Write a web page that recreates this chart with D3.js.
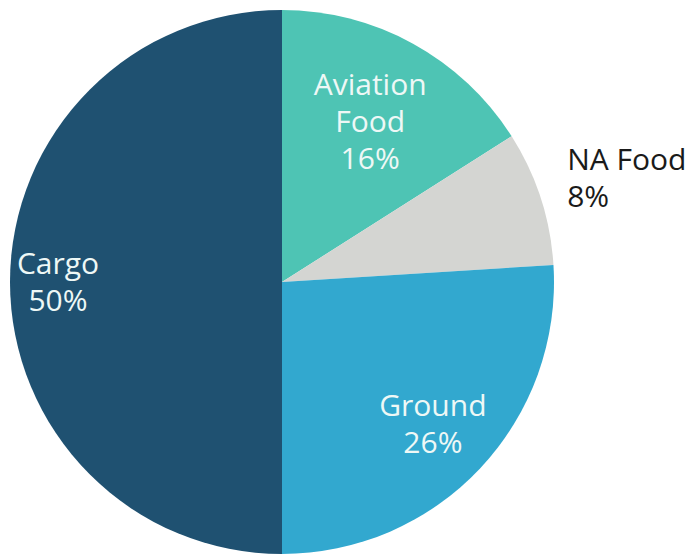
<!DOCTYPE html>
<html>
<head>
<meta charset="utf-8">
<script src="https://cdn.jsdelivr.net/npm/d3@7"></script>
<style>
  html, body { margin: 0; padding: 0; background: #ffffff; }
  svg { display: block; }
</style>
</head>
<body>
<div id="chart"></div>
<script>
// slices, clockwise from 12 o'clock
const categories = ["Aviation Food", "NA Food", "Ground", "Cargo"];
const shares = [16, 8, 26, 50];
const labelLines = [["Aviation", "Food", "16%"], ["NA Food", "8%"], ["Ground", "26%"], ["Cargo", "50%"]];
const colors = ["#4ec4b4", "#d4d5d2", "#32a8cf", "#1f5171"];

const width = 698, height = 556;
const cx = 282, cy = 282, radius = 272;
const fontSize = 30, pitch = 37, capH = 21;

// where each label sits: radius from centre, small tweaks
const labelCfg = {
  "Aviation Food": { r: 183, anchor: "middle", fill: "#eef8f6", dx: 0, dy: 0 },
  "NA Food": { r: 303, anchor: "start", fill: "#1a1a1a", dx: -3, dy: -10 },
  "Ground": { r: 207, anchor: "middle", fill: "#eef8f6", dx: 0, dy: 0 },
  "Cargo": { r: 224, anchor: "middle", fill: "#eef8f6", dx: 0, dy: 0 }
};

const data = categories.map((c, i) => ({ name: c, value: shares[i], lines: labelLines[i], color: colors[i] }));

const pie = d3.pie().sort(null).value(d => d.value);
const arc = d3.arc().innerRadius(0).outerRadius(radius);

const svg = d3.select("#chart").append("svg")
    .attr("width", width)
    .attr("height", height);

const g = svg.append("g").attr("transform", `translate(${cx},${cy})`);

const arcs = pie(data);

g.selectAll("path.slice")
    .data(arcs)
    .enter()
    .append("path")
    .attr("class", "slice")
    .attr("d", arc)
    .attr("fill", d => d.data.color);

const labels = g.selectAll("text.label")
    .data(arcs)
    .enter()
    .append("text")
    .attr("class", "label")
    .attr("font-family", "'Open Sans', 'Noto Sans', sans-serif")
    .attr("font-size", fontSize)
    .attr("text-anchor", d => labelCfg[d.data.name].anchor)
    .attr("fill", d => labelCfg[d.data.name].fill);

labels.each(function(d) {
    const cfg = labelCfg[d.data.name];
    const p = d3.arc().innerRadius(cfg.r).outerRadius(cfg.r).centroid(d);
    const n = d.data.lines.length;
    d3.select(this).selectAll("tspan")
        .data(d.data.lines)
        .enter()
        .append("tspan")
        .attr("x", p[0] + cfg.dx)
        .attr("y", (t, i) => p[1] + cfg.dy + (i - (n - 1) / 2) * pitch + capH / 2)
        .text(t => t);
});
</script>
</body>
</html>
